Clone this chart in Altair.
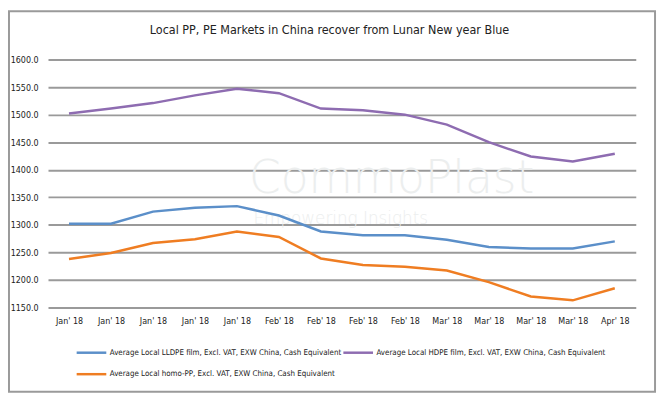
import json
import altair as alt
import pandas as pd

# ---- data -------------------------------------------------------------
months = ["Jan' 18", "Jan' 18", "Jan' 18", "Jan' 18", "Jan' 18",
          "Feb' 18", "Feb' 18", "Feb' 18", "Feb' 18",
          "Mar' 18", "Mar' 18", "Mar' 18", "Mar' 18",
          "Apr' 18"]
name_lldpe = "Average Local LLDPE film, Excl. VAT, EXW China, Cash Equivalent"
name_hdpe = "Average Local HDPE film, Excl. VAT, EXW China, Cash Equivalent"
name_pp = "Average Local homo-PP, Excl. VAT, EXW China, Cash Equivalent"
lldpe = [1302, 1302, 1324, 1331, 1334, 1317, 1288, 1281, 1281, 1273, 1260, 1257, 1257, 1270]
hdpe = [1502, 1511, 1521, 1535, 1547, 1539, 1511, 1508, 1500, 1482, 1450, 1424, 1415, 1429]
homo_pp = [1238, 1249, 1267, 1274, 1288, 1278, 1239, 1227, 1224, 1217, 1196, 1170, 1163, 1185]
y_ticks = [1150, 1200, 1250, 1300, 1350, 1400, 1450, 1500, 1550, 1600]
title_text = "Local PP, PE Markets in China recover from Lunar New year Blue"
watermark_main = "CommoPlast"
watermark_sub = "Empowering Insights"

# legend is laid out column by column: LLDPE / homo-PP in the first column, HDPE in the second
legend_order = [name_lldpe, name_pp, name_hdpe]
colors = ["#5b8fc9", "#ef7d22", "#8e6cb1"]

rows = []
for name, vals in [(name_lldpe, lldpe), (name_hdpe, hdpe), (name_pp, homo_pp)]:
    for i, v in enumerate(vals):
        rows.append({"idx": i, "series": name, "value": v})
df = pd.DataFrame(rows)

W, H = 595, 251
FONT = "DejaVu Sans Condensed"
label_expr = json.dumps(months) + "[datum.value]"

one = pd.DataFrame({"k": [0]})

frame = alt.Chart(one).mark_rect(fillOpacity=0, stroke="#9a9a9a", strokeWidth=2).encode(
    x=alt.value(-39.5), x2=alt.value(614.5), y=alt.value(-48.8), y2=alt.value(336.2)
)

wm1 = alt.Chart(one).mark_text(
    text=watermark_main, font="DejaVu Sans", fontSize=46, fontWeight=300,
    color="#eceeee", align="left", baseline="alphabetic"
).encode(x=alt.value(203.5), y=alt.value(135))

wm2 = alt.Chart(one).mark_text(
    text=watermark_sub, font="DejaVu Sans", fontSize=17, fontWeight=300,
    color="#eceeee", align="left", baseline="alphabetic"
).encode(x=alt.value(208), y=alt.value(166))

title = alt.Chart(one).mark_text(
    text=title_text, font=FONT, fontSize=12.6, color="#222222",
    align="center", baseline="alphabetic"
).encode(x=alt.value(285), y=alt.value(-25.8))

lines = alt.Chart(df).mark_line(strokeWidth=2.5).encode(
    x=alt.X(
        "idx:O",
        scale=alt.Scale(type="point", padding=0.5),
        axis=alt.Axis(
            title=None, labelExpr=label_expr, labelAngle=0, ticks=False,
            domain=False, grid=False, labelPadding=9, labelFont=FONT,
            labelFontSize=9, labelColor="#222222",
        ),
    ),
    y=alt.Y(
        "value:Q",
        scale=alt.Scale(domain=[1150, 1600], nice=False, zero=False),
        axis=alt.Axis(
            title=None, values=y_ticks, format=".1f", grid=True,
            gridColor="#9a9a9a", gridWidth=2, domain=False, ticks=False,
            labelPadding=10, labelFont=FONT, labelFontSize=9,
            labelColor="#222222",
        ),
    ),
    color=alt.Color(
        "series:N",
        scale=alt.Scale(domain=legend_order, range=colors),
        legend=alt.Legend(
            title=None, orient="none", legendX=27.5, legendY=280, columns=2,
            symbolType="stroke", symbolSize=900, symbolStrokeWidth=2.5,
            labelFont=FONT, labelFontSize=8, labelColor="#222222",
            columnPadding=-10, rowPadding=-3, labelLimit=400, padding=0,
            labelOffset=2,
        ),
    ),
)

chart = alt.layer(frame, wm1, wm2, title, lines).properties(
    width=W, height=H,
    padding={"left": 40.5, "top": 49.8, "right": 22.5, "bottom": 89},
    autosize=alt.AutoSizeParams(type="none"),
).configure_view(strokeWidth=0)

chart.save("out.html", embed_options={"renderer": "svg", "actions": False})
